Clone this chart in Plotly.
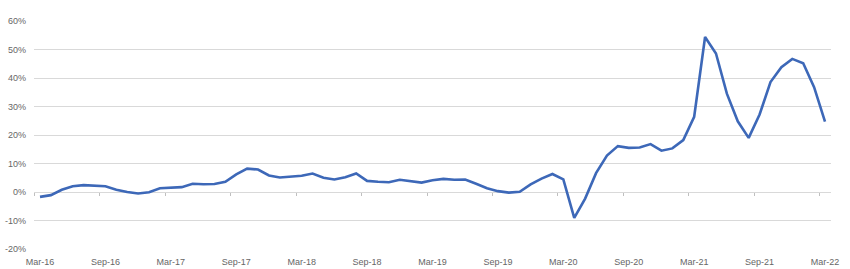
import plotly.graph_objects as go

months = ["Mar-16","Apr-16","May-16","Jun-16","Jul-16","Aug-16","Sep-16","Oct-16","Nov-16","Dec-16",
          "Jan-17","Feb-17","Mar-17","Apr-17","May-17","Jun-17","Jul-17","Aug-17","Sep-17","Oct-17","Nov-17","Dec-17",
          "Jan-18","Feb-18","Mar-18","Apr-18","May-18","Jun-18","Jul-18","Aug-18","Sep-18","Oct-18","Nov-18","Dec-18",
          "Jan-19","Feb-19","Mar-19","Apr-19","May-19","Jun-19","Jul-19","Aug-19","Sep-19","Oct-19","Nov-19","Dec-19",
          "Jan-20","Feb-20","Mar-20","Apr-20","May-20","Jun-20","Jul-20","Aug-20","Sep-20","Oct-20","Nov-20","Dec-20",
          "Jan-21","Feb-21","Mar-21","Apr-21","May-21","Jun-21","Jul-21","Aug-21","Sep-21","Oct-21","Nov-21","Dec-21",
          "Jan-22","Feb-22","Mar-22"]

values = [-1.7, -1.1, 0.8, 2.0, 2.4, 2.2, 2.0, 0.8, 0.0, -0.5,
          -0.1, 1.3, 1.5, 1.7, 2.9, 2.7, 2.8, 3.6, 6.2, 8.2, 7.9, 5.8,
          5.1, 5.3, 5.7, 6.5, 5.0, 4.4, 5.2, 6.5, 3.9, 3.6, 3.4, 4.3,
          3.7, 3.3, 4.1, 4.6, 4.3, 4.4, 2.9, 1.3, 0.3, -0.2, 0.1, 2.7,
          4.7, 6.3, 4.4, -9.1, -2.3, 6.6, 12.8, 16.1, 15.5, 15.6, 16.8, 14.5,
          15.3, 18.2, 26.4, 54.4, 48.6, 34.5, 24.8, 19.0, 27.2, 38.6, 43.8, 46.7,
          45.2, 36.8, 24.7]

label_months = ["Mar-16","Sep-16","Mar-17","Sep-17","Mar-18","Sep-18","Mar-19",
                "Sep-19","Mar-20","Sep-20","Mar-21","Sep-21","Mar-22"]

y_ticks = [-20, -10, 0, 10, 20, 30, 40, 50, 60]

idx = list(range(len(months)))
label_idx = [months.index(m) for m in label_months]
tick_mark_pos = [i - 0.5 for i in label_idx]

font = dict(family="Liberation Sans, Arial, sans-serif", size=9, color="#666666")

fig = go.Figure()
fig.add_trace(go.Scatter(
    x=idx, y=[v / 100 for v in values], mode="lines",
    line=dict(color="#3d68b8", width=2.6),
    hoverinfo="skip", showlegend=False,
))
fig.add_trace(go.Scatter(x=[], y=[], xaxis="x2", yaxis="y", showlegend=False))

xr = [-0.55, len(months) - 1 + 0.55]
fig.update_layout(
    width=850, height=269,
    margin=dict(l=34, r=19, t=21, b=20, autoexpand=False),
    paper_bgcolor="white", plot_bgcolor="white",
    font=font,
    xaxis=dict(
        range=xr, tickvals=label_idx, ticktext=label_months,
        showgrid=False, zeroline=False, showline=False, ticks="",
        tickfont=font, automargin=False, ticklabelstandoff=6,
    ),
    xaxis2=dict(
        range=xr, overlaying="x", anchor="free", position=0.25,
        tickvals=tick_mark_pos, showticklabels=False, ticks="outside",
        ticklen=3, tickcolor="#bfbfbf", tickwidth=1,
        showgrid=False, zeroline=False, showline=False, automargin=False,
    ),
    yaxis=dict(
        range=[-0.2, 0.6], tickvals=[t / 100 for t in y_ticks],
        ticktext=[f"{t}%" for t in y_ticks],
        showgrid=True, gridcolor="#d9d9d9", gridwidth=1,
        zeroline=False, showline=False, ticks="", ticklabelstandoff=7,
        tickfont=font, automargin=False,
    ),
)

fig.write_html("out.html")
